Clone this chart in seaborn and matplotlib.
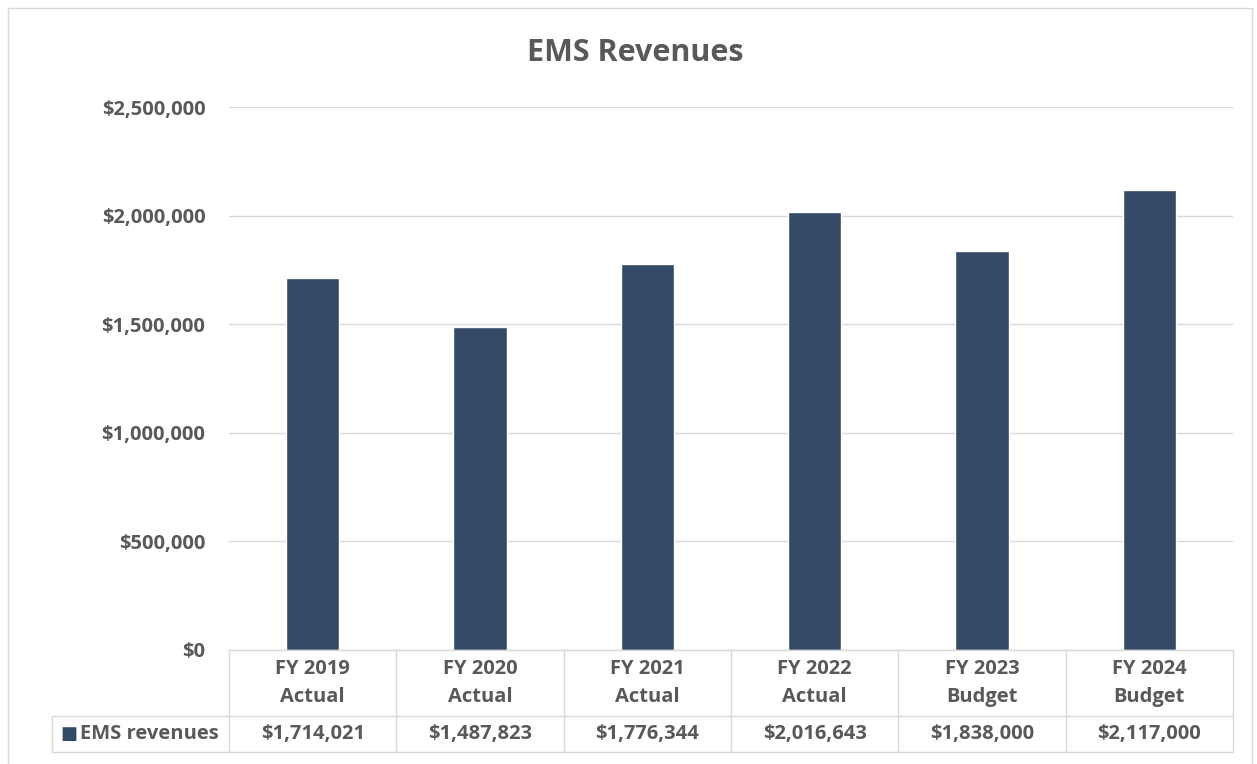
import matplotlib
matplotlib.use("Agg")
import matplotlib.pyplot as plt
import matplotlib.transforms as mtransforms
from matplotlib.ticker import FuncFormatter
import seaborn as sns
import pandas as pd

categories = ["FY 2019\nActual", "FY 2020\nActual", "FY 2021\nActual",
              "FY 2022\nActual", "FY 2023\nBudget", "FY 2024\nBudget"]
revenues = [1714021, 1487823, 1776344, 2016643, 1838000, 2117000]
series_name = "EMS revenues"

df = pd.DataFrame({"category": categories, "revenue": revenues})

sns.set_theme(style="white")
plt.rcParams["font.family"] = ["Open Sans", "DejaVu Sans"]

bar_color = "#344a66"
text_color = "#595959"
line_color = "#d9d9d9"
fs = 14.5

fig = plt.figure(figsize=(12.57, 7.64), dpi=100)
ax = fig.add_axes([229 / 1257, 1 - 650 / 764, 1004 / 1257, 543 / 764])

sns.barplot(data=df, x="category", y="revenue", color=bar_color,
            width=0.32, saturation=1, ax=ax)

ax.set_ylim(0, 2500000)
ax.set_xlim(-0.5, 5.5)
ax.set_yticks([0, 500000, 1000000, 1500000, 2000000, 2500000])
ax.yaxis.set_major_formatter(FuncFormatter(lambda v, p: f"${v:,.0f}"))
ax.grid(axis="y", color=line_color, linewidth=1)
ax.set_axisbelow(True)
for s in ax.spines.values():
    s.set_visible(False)
ax.set_xlabel("")
ax.set_ylabel("")
ax.set_xticks([])
ax.tick_params(axis="y", length=0, pad=17, labelsize=fs, labelcolor=text_color)
for t in ax.get_yticklabels():
    t.set_fontweight("bold")

fig.text(635 / 1257, 1 - 53 / 764, "EMS Revenues", ha="center", va="center",
         fontsize=22, fontweight="bold", color=text_color)

# data table below the axes
tr = mtransforms.blended_transform_factory(ax.transData, ax.transAxes)
y_head = -66 / 543
y_bot = -102 / 543
x_left = (52 - 229) / 1004

kw = dict(color=line_color, linewidth=1, clip_on=False)
ax.plot([-0.5, 5.5], [0, 0], transform=tr, **kw)
for i in range(len(categories) + 1):
    ax.plot([i - 0.5, i - 0.5], [0, y_bot], transform=tr, **kw)
ax.plot([x_left, 1], [y_head, y_head], transform=ax.transAxes, **kw)
ax.plot([x_left, 1], [y_bot, y_bot], transform=ax.transAxes, **kw)
ax.plot([x_left, x_left], [y_head, y_bot], transform=ax.transAxes, **kw)

for i, (cat, val) in enumerate(zip(categories, revenues)):
    ax.text(i, y_head / 2, cat, transform=tr, ha="center", va="center",
            fontsize=fs, fontweight="bold", color=text_color,
            linespacing=1.5)
    ax.text(i, (y_head + y_bot) / 2, f"${val:,.0f}", transform=tr,
            ha="center", va="center", fontsize=fs, fontweight="bold",
            color=text_color)

ax.text((60 - 229) / 1004, (y_head + y_bot) / 2, "\u25a0", transform=ax.transAxes,
        ha="left", va="center", fontsize=13, color=bar_color)
ax.text((80 - 229) / 1004, (y_head + y_bot) / 2, series_name,
        transform=ax.transAxes, ha="left", va="center", fontsize=fs,
        fontweight="bold", color=text_color)

# outer chart frame
frame = plt.Rectangle((8 / 1257, -0.02), 1244 / 1257, 1 - 8 / 764 + 0.02,
                      transform=fig.transFigure, fill=False,
                      edgecolor=line_color, linewidth=1)
fig.patches.append(frame)

fig.savefig("out.png", dpi=100)
